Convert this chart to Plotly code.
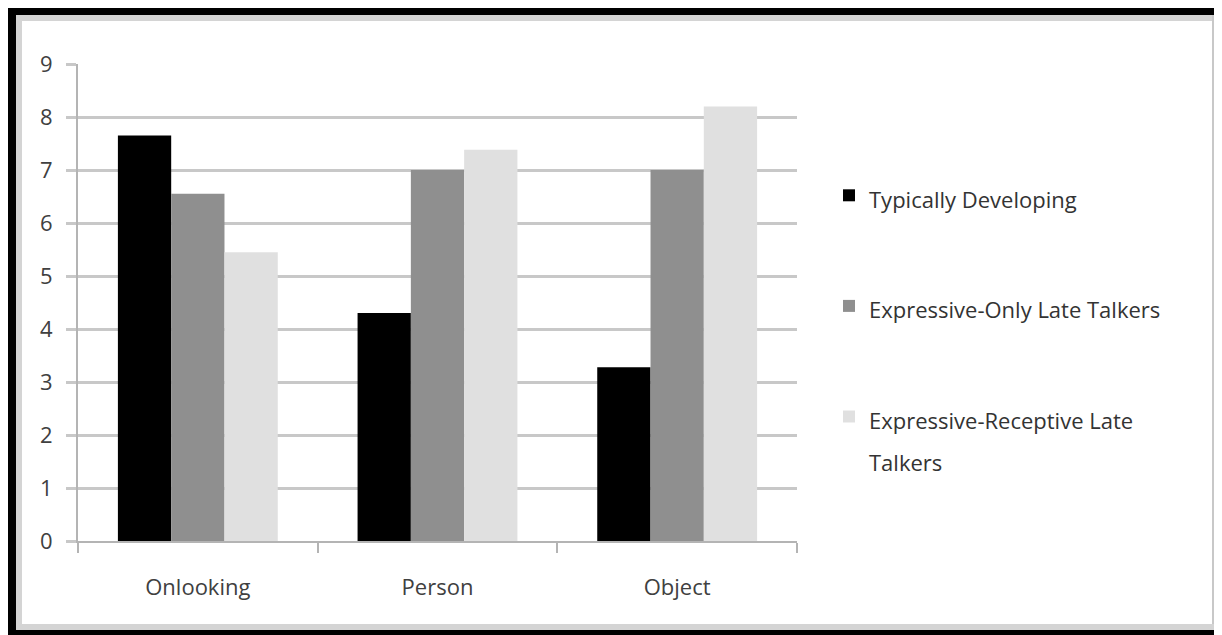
import plotly.graph_objects as go

categories = ["Onlooking", "Person", "Object"]
series_names = ["Typically Developing", "Expressive-Only Late Talkers", "Expressive-Receptive Late<br>Talkers"]
typically_developing = [7.65, 4.30, 3.28]
expressive_only = [6.55, 7.0, 7.0]
expressive_receptive = [5.45, 7.38, 8.2]
y_ticks = [0, 1, 2, 3, 4, 5, 6, 7, 8, 9]

colors = ["#000000", "#8f8f8f", "#e0e0e0"]
values = [typically_developing, expressive_only, expressive_receptive]

# page body has an 8px margin; work in screen pixels and subtract it
O = 8
W, H = 1222 - O, 635 - O
L, R, T, B = 78 - O, 797 - O, 64 - O, 541 - O


def px(x):
    return (x - O - L) / (R - L)


def py(y):
    return (B - (y - O)) / (B - T)


fig = go.Figure()
for i, (name, vals, col) in enumerate(zip(series_names, values, colors)):
    label = "<br>".join(f"<span style='font-size:22px'>{part}</span>" for part in name.split("<br>"))
    fig.add_trace(go.Bar(
        x=categories, y=vals, name=label, marker=dict(color=col, line=dict(width=0)),
        legendgroup=f"g{i}",
    ))

font_family = "Open Sans, Liberation Sans, sans-serif"

shapes = []


def rect(x0, y0, x1, y1, color):
    shapes.append(dict(type="rect", xref="paper", yref="paper",
                       x0=px(x0), x1=px(x1), y0=py(y0), y1=py(y1),
                       fillcolor=color, line=dict(width=0), layer="above"))


# inner light grey frame
rect(16, 15, 22, 630, "#d4d4d4")
rect(16, 15, 1218, 21, "#d4d4d4")
rect(1212, 15, 1218, 630, "#c8c8c8")
rect(16, 624, 1218, 630, "#d4d4d4")
# outer black frame
rect(8, 8, 16, 635, "#000000")
rect(8, 8, 1222, 15, "#000000")
rect(1218, 8, 1222, 635, "#222222")
rect(8, 630, 1222, 635, "#000000")

fig.update_layout(
    width=W, height=H,
    margin=dict(l=L, r=W - R, t=T, b=H - B, pad=0),
    paper_bgcolor="white", plot_bgcolor="white",
    barmode="group", bargap=0.333, bargroupgap=0,
    font=dict(family=font_family, size=20, color="#404040"),
    showlegend=True,
    legend=dict(
        x=px(829), xanchor="left", y=py(168), yanchor="top",
        traceorder="grouped", tracegroupgap=66, valign="top",
        font=dict(family=font_family, size=32, color="#333333"),
        bgcolor="rgba(0,0,0,0)", itemclick=False,
    ),
    shapes=shapes,
)
fig.update_yaxes(
    range=[0, 9], tickvals=y_ticks, ticktext=[str(v) for v in y_ticks],
    showgrid=True, gridcolor="#c8c8c8", gridwidth=3,
    ticks="outside", ticklen=10, tickcolor="#c8c8c8", tickwidth=3,
    showline=True, linecolor="#b4b4b4", linewidth=2,
    zeroline=False, ticklabelstandoff=9,
    tickfont=dict(size=22, color="#404040"),
)
fig.update_xaxes(
    showline=True, linecolor="#b4b4b4", linewidth=2,
    ticks="outside", ticklen=10, tickcolor="#b4b4b4", tickwidth=2,
    tickson="boundaries", showgrid=False, ticklabelstandoff=26,
    tickfont=dict(size=22, color="#404040"),
)

fig.write_html("out.html")
